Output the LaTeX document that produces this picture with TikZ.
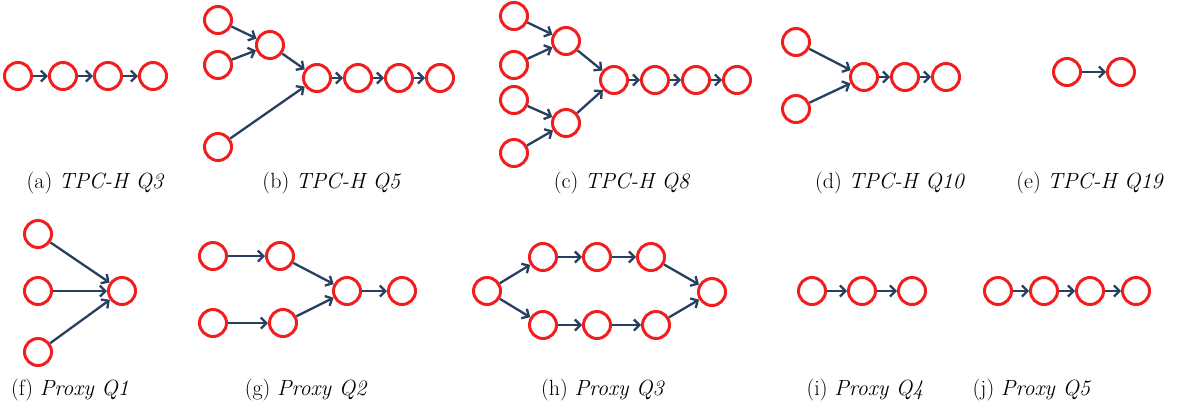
\documentclass[tikz,border=0pt]{standalone}
\usepackage{tikz}
\usetikzlibrary{arrows.meta,positioning}
\definecolor{VertexRed}{HTML}{F01E1E}
\definecolor{EdgeNavy}{HTML}{27405F}

\begin{document}
\begin{tikzpicture}[
    x=1pt, y=-1pt,
    vertex/.style={circle,draw=VertexRed,line width=3pt,minimum size=27pt,inner sep=0pt},
    edge/.style={-{Straight Barb[length=5.5pt,width=11pt]},line width=2.3pt,color=EdgeNavy},
    subcap/.style={font=\fontsize{22}{26}\selectfont,inner sep=0pt}
]
  \useasboundingbox (0,0) rectangle (1177,413);

  % (a) TPC-H Q3
  \node[vertex] (a1) at (18,76) {};
  \node[vertex, right=15pt of a1] (a2) {};
  \node[vertex, right=15pt of a2] (a3) {};
  \node[vertex, right=15pt of a3] (a4) {};
  \draw[edge] (a1) -- (a2);
  \draw[edge] (a2) -- (a3);
  \draw[edge] (a3) -- (a4);
  \node[subcap] (capA) at (95.5,183) {(a) \textit{TPC-H Q3}};

  % (b) TPC-H Q5
  \node[vertex] (b1) at (218,20) {};
  \node[vertex] (b2) at (218,65) {};
  \node[vertex] (b3) at (218,147) {};
  \node[vertex] (b4) at (270,45) {};
  \node[vertex] (b5) at (317,78) {};
  \node[vertex, right=11pt of b5] (b6) {};
  \node[vertex, right=11pt of b6] (b7) {};
  \node[vertex, right=11pt of b7] (b8) {};
  \draw[edge] (b1) -- (b4);
  \draw[edge] (b2) -- (b4);
  \draw[edge] (b4) -- (b5);
  \draw[edge] (b3) -- (b5);
  \draw[edge] (b5) -- (b6);
  \draw[edge] (b6) -- (b7);
  \draw[edge] (b7) -- (b8);
  \node[subcap] (capB) at (332,183) {(b) \textit{TPC-H Q5}};

  % (c) TPC-H Q8
  \node[vertex] (c1) at (514,16) {};
  \node[vertex] (c2) at (514,65) {};
  \node[vertex] (c3) at (514,100) {};
  \node[vertex] (c4) at (514,153) {};
  \node[vertex] (c5) at (566,41) {};
  \node[vertex] (c6) at (566,123) {};
  \node[vertex] (c7) at (614,80) {};
  \node[vertex, right=11pt of c7] (c8) {};
  \node[vertex, right=11pt of c8] (c9) {};
  \node[vertex, right=11pt of c9] (c10) {};
  \draw[edge] (c1) -- (c5);
  \draw[edge] (c2) -- (c5);
  \draw[edge] (c3) -- (c6);
  \draw[edge] (c4) -- (c6);
  \draw[edge] (c5) -- (c7);
  \draw[edge] (c6) -- (c7);
  \draw[edge] (c7) -- (c8);
  \draw[edge] (c8) -- (c9);
  \draw[edge] (c9) -- (c10);
  \node[subcap] (capC) at (622,183) {(c) \textit{TPC-H Q8}};

  % (d) TPC-H Q10
  \node[vertex] (d1) at (796,42) {};
  \node[vertex] (d2) at (796,109) {};
  \node[vertex] (d3) at (864,77) {};
  \node[vertex, right=11pt of d3] (d4) {};
  \node[vertex, right=11pt of d4] (d5) {};
  \draw[edge] (d1) -- (d3);
  \draw[edge] (d2) -- (d3);
  \draw[edge] (d3) -- (d4);
  \draw[edge] (d4) -- (d5);
  \node[subcap] (capD) at (890,183) {(d) \textit{TPC-H Q10}};

  % (e) TPC-H Q19
  \node[vertex] (e1) at (1067,72) {};
  \node[vertex, right=24pt of e1] (e2) {};
  \draw[edge] (e1) -- (e2);
  \node[subcap] (capE) at (1090,183) {(e) \textit{TPC-H Q19}};

  % (f) Proxy Q1
  \node[vertex] (f1) at (38,234) {};
  \node[vertex] (f2) at (38,291) {};
  \node[vertex] (f3) at (38,352) {};
  \node[vertex] (f4) at (122,291) {};
  \draw[edge] (f1) -- (f4);
  \draw[edge] (f2) -- (f4);
  \draw[edge] (f3) -- (f4);
  \node[subcap] (capF) at (70,390) {(f) \textit{Proxy Q1}};

  % (g) Proxy Q2
  \node[vertex] (g1) at (213,256) {};
  \node[vertex] (g2) at (213,323) {};
  \node[vertex, right=37pt of g1] (g3) {};
  \node[vertex, right=40pt of g2] (g4) {};
  \node[vertex] (g5) at (347,291) {};
  \node[vertex, right=25pt of g5] (g6) {};
  \draw[edge] (g1) -- (g3);
  \draw[edge] (g2) -- (g4);
  \draw[edge] (g3) -- (g5);
  \draw[edge] (g4) -- (g5);
  \draw[edge] (g5) -- (g6);
  \node[subcap] (capG) at (306,390) {(g) \textit{Proxy Q2}};

  % (h) Proxy Q3
  \node[vertex] (h1) at (487,291) {};
  \node[vertex] (h2) at (543,257) {};
  \node[vertex, right=24pt of h2] (h3) {};
  \node[vertex, right=24pt of h3] (h4) {};
  \node[vertex] (h5) at (543,325) {};
  \node[vertex, right=24pt of h5] (h6) {};
  \node[vertex, right=29pt of h6] (h7) {};
  \node[vertex] (h8) at (712,292) {};
  \draw[edge] (h1) -- (h2);
  \draw[edge] (h1) -- (h5);
  \draw[edge] (h2) -- (h3);
  \draw[edge] (h3) -- (h4);
  \draw[edge] (h5) -- (h6);
  \draw[edge] (h6) -- (h7);
  \draw[edge] (h4) -- (h8);
  \draw[edge] (h7) -- (h8);
  \node[subcap] (capH) at (603,390) {(h) \textit{Proxy Q3}};

  % (i) Proxy Q4
  \node[vertex] (i1) at (812,291) {};
  \node[vertex, right=20pt of i1] (i2) {};
  \node[vertex, right=20pt of i2] (i3) {};
  \draw[edge] (i1) -- (i2);
  \draw[edge] (i2) -- (i3);
  \node[subcap] (capI) at (865,390) {(i) \textit{Proxy Q4}};

  % (j) Proxy Q5
  \node[vertex] (j1) at (998,291) {};
  \node[vertex, right=16pt of j1] (j2) {};
  \node[vertex, right=16pt of j2] (j3) {};
  \node[vertex, right=16pt of j3] (j4) {};
  \draw[edge] (j1) -- (j2);
  \draw[edge] (j2) -- (j3);
  \draw[edge] (j3) -- (j4);
  \node[subcap] (capJ) at (1032,390) {(j) \textit{Proxy Q5}};
\end{tikzpicture}
\end{document}
